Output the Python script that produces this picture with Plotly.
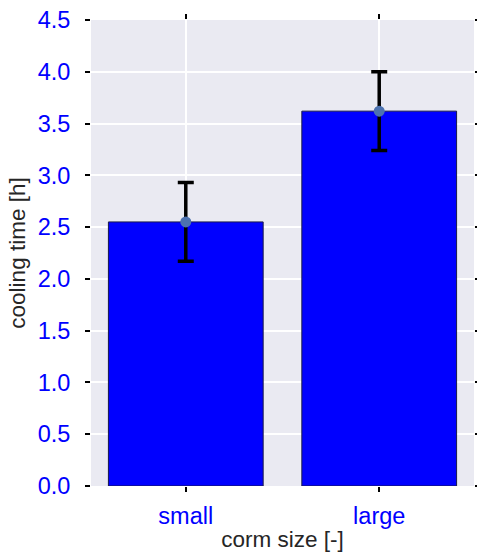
import plotly.graph_objects as go

categories = ["small", "large"]
cooling_time = [2.55, 3.62]
error = [0.38, 0.38]
y_ticks = [0.0, 0.5, 1.0, 1.5, 2.0, 2.5, 3.0, 3.5, 4.0, 4.5]

fig = go.Figure()
fig.add_trace(go.Bar(
    x=[0, 1], y=cooling_time, width=0.8,
    marker=dict(color="#0000ff", line=dict(color="#1a1a4a", width=1)),
    showlegend=False, hoverinfo="skip",
))
fig.add_trace(go.Scatter(
    x=[0, 1], y=cooling_time, mode="markers",
    marker=dict(color="#4c72b0", size=11),
    error_y=dict(type="data", array=error, color="black", thickness=3.5, width=8),
    showlegend=False,
))

font_family = "Liberation Sans, Arial, sans-serif"
fig.update_layout(
    width=477, height=554,
    margin=dict(l=91, r=3, t=20, b=68),
    paper_bgcolor="white", plot_bgcolor="#eaeaf2",
    font=dict(family=font_family, color="#262626"),
    bargap=0.2,
)
fig.update_xaxes(
    range=[-0.49, 1.49], tickvals=[0, 1], ticktext=categories,
    showgrid=True, gridcolor="white", gridwidth=1.5, zeroline=False,
    ticks="outside", ticklen=5, tickwidth=1.5, tickcolor="black",
    mirror="ticks", showline=False,
    tickfont=dict(size=23.5, color="#0000ff", family=font_family),
    ticklabelstandoff=4,
    title=dict(text="corm size [-]", font=dict(size=22.5, color="#262626"), standoff=3),
)
fig.update_yaxes(
    range=[0, 4.5], tickvals=y_ticks, ticktext=[f"{v:.1f}" for v in y_ticks],
    showgrid=True, gridcolor="white", gridwidth=1.5, zeroline=False,
    ticks="outside", ticklen=5, tickwidth=1.5, tickcolor="black",
    mirror="ticks", showline=False,
    tickfont=dict(size=23.5, color="#0000ff", family=font_family),
    ticklabelstandoff=10,
    title=dict(text="cooling time [h]", font=dict(size=22.5, color="#262626"), standoff=5),
)
fig.write_html(
    "out.html",
    config={"displayModeBar": False},
    post_script="document.body.style.margin='0';document.body.style.overflow='hidden';",
)
